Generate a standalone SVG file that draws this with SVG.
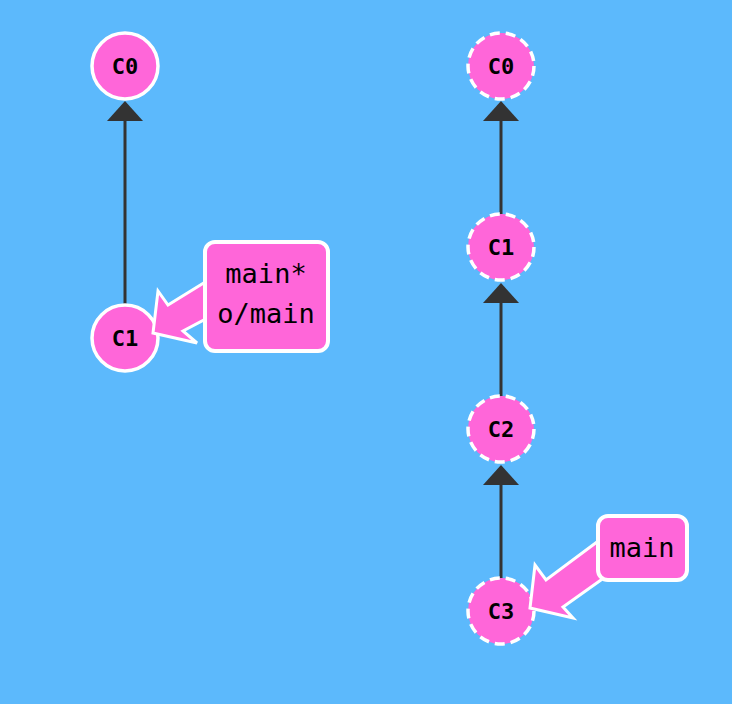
<svg xmlns="http://www.w3.org/2000/svg" width="732" height="704" viewBox="0 0 732 704">
<style>
.commit{fill:#ff66d9;stroke:#fff;stroke-width:3.5}
.dashed{stroke-dasharray:10 6}
.ctext{font-family:"DejaVu Sans Mono",monospace;font-weight:bold;font-size:22px;fill:#000;text-anchor:middle;dominant-baseline:central}
.edge{stroke:#333;stroke-width:3;fill:none}
.head{fill:#333}
.label{fill:#ff66d9;stroke:#fff;stroke-width:4}
.ltext{font-family:"DejaVu Sans Mono",monospace;font-size:27px;fill:#000;text-anchor:middle;dominant-baseline:central}
.barrow{fill:#ff66d9;stroke:#fff;stroke-width:3;stroke-linejoin:miter}
</style>
<rect width="732" height="704" fill="#5cb9fc"/>
<g id="connectors">
<line class="edge" x1="125" y1="305" x2="125" y2="118"/>
<polygon class="head" points="125,101 107,121 143,121"/>
<line class="edge" x1="501" y1="214" x2="501" y2="118"/>
<polygon class="head" points="501,101 483,121 519,121"/>
<line class="edge" x1="501" y1="396" x2="501" y2="300"/>
<polygon class="head" points="501,283 483,303 519,303"/>
<line class="edge" x1="501" y1="578" x2="501" y2="482"/>
<polygon class="head" points="501,465 483,485 519,485"/>
</g>
<g id="c0-left"><circle class="commit" cx="125" cy="66" r="33"/><text class="ctext" x="125" y="66">C0</text></g>
<g id="c1-left"><circle class="commit" cx="125" cy="338" r="33"/><text class="ctext" x="125" y="338">C1</text></g>
<g id="c0-right"><circle class="commit dashed" cx="501" cy="66" r="33"/><text class="ctext" x="501" y="66">C0</text></g>
<g id="c1-right"><circle class="commit dashed" cx="501" cy="247" r="33"/><text class="ctext" x="501" y="247">C1</text></g>
<g id="c2-right"><circle class="commit dashed" cx="501" cy="429" r="33"/><text class="ctext" x="501" y="429">C2</text></g>
<g id="c3-right"><circle class="commit dashed" cx="501" cy="611" r="33"/><text class="ctext" x="501" y="611">C3</text></g>
<g id="branch-left">
<polygon class="barrow" points="215,276 168,305 158,291 153,333 197,343 183,331 215,314"/>
<rect class="label" x="205" y="242" width="123" height="109" rx="10"/>
<text class="ltext" x="266" y="273">main*</text>
<text class="ltext" x="266" y="313">o/main</text>
</g>
<g id="branch-right">
<polygon class="barrow" points="605,536 546,580 535,565 530,608 573,618 563,607 608,575"/>
<rect class="label" x="598" y="516" width="89" height="64" rx="10"/>
<text class="ltext" x="642" y="547">main</text>
</g>
</svg>
